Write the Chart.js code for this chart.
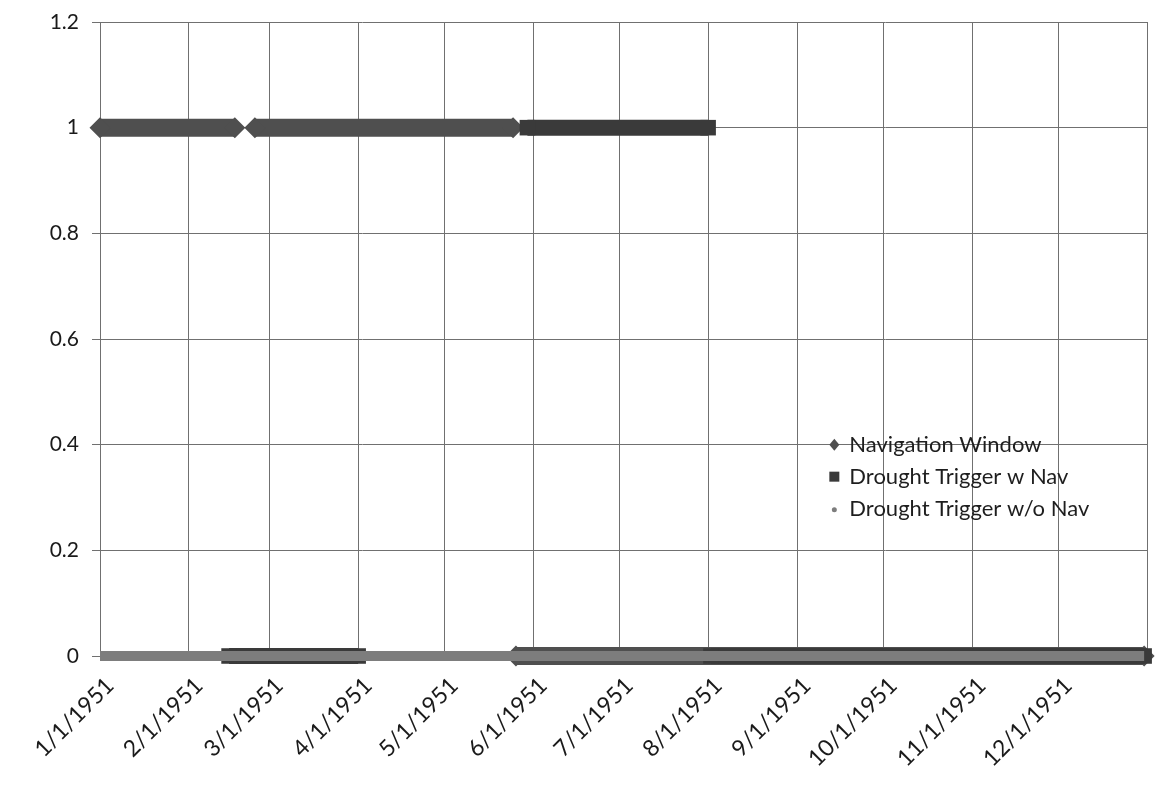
<!DOCTYPE html>
<html>
<head>
<meta charset="utf-8">
<script src="https://cdn.jsdelivr.net/npm/chart.js@4"></script>
<style>
  html, body { margin: 0; padding: 0; background: #fff; }
  #wrap { width: 1175px; height: 796px; }
</style>
</head>
<body>
<div id="wrap"><canvas id="chart"></canvas></div>
<script>
// x axis: days after 1/1/1951
var monthLabels = ["1/1/1951", "2/1/1951", "3/1/1951", "4/1/1951", "5/1/1951", "6/1/1951",
                   "7/1/1951", "8/1/1951", "9/1/1951", "10/1/1951", "11/1/1951", "12/1/1951"];
var monthStartDays = [0, 31, 59, 90, 120, 151, 181, 212, 243, 273, 304, 334];
var yearEndDay = 365;
var yTicks = [0, 0.2, 0.4, 0.6, 0.8, 1, 1.2];

// each series as runs of equal value: first day, last day, value
var navStart = [0, 54, 145];
var navEnd = [47, 144, 364];
var navValue = [1, 1, 0];

var trigNavStart = [45, 149, 213];
var trigNavEnd = [90, 212, 364];
var trigNavValue = [0, 1, 0];

var trigNoNavStart = [0];
var trigNoNavEnd = [364];
var trigNoNavValue = [0];

var seriesNames = ["Navigation Window", "Drought Trigger w Nav", "Drought Trigger w/o Nav"];

function runsToPoints(starts, ends, values) {
    var pts = [];
    for (var i = 0; i < starts.length; i++) {
        pts.push({x: starts[i], y: values[i]});
        pts.push({x: ends[i], y: values[i]});
        pts.push({x: ends[i], y: null});
    }
    return pts;
}

var font = "Lato, 'Open Sans', sans-serif";

//Legend sits inside the plot, no box
var innerLegend = {
    id: "innerLegend",
    afterDatasetsDraw: function(chart) {
        var ctx = chart.ctx;
        var x = chart.scales.x.getPixelForValue(256);
        var y = chart.scales.y.getPixelForValue(0.4);
        ctx.save();
        ctx.font = "22px " + font;
        ctx.textBaseline = "middle";
        chart.data.datasets.forEach(function(ds, i) {
            var yy = y + i * 32;
            ctx.fillStyle = ds.borderColor;
            if (i === 0) {
                ctx.beginPath();
                ctx.moveTo(x, yy - 6); ctx.lineTo(x + 5, yy); ctx.lineTo(x, yy + 6); ctx.lineTo(x - 5, yy);
                ctx.closePath(); ctx.fill();
            } else if (i === 1) {
                ctx.fillRect(x - 5, yy - 5, 10, 10);
            } else {
                ctx.beginPath(); ctx.arc(x, yy + 1, 2.5, 0, Math.PI * 2); ctx.fill();
            }
            ctx.fillStyle = "#1e1e1e";
            ctx.fillText(ds.label, x + 15, yy);
        });
        ctx.restore();
    }
};

var ctx = document.getElementById("chart").getContext("2d");
ctx.canvas.width = 1175;
ctx.canvas.height = 796;

var myChart = new Chart(ctx, {
    type: "line",
    data: {
        datasets: [
            {
                label: seriesNames[0],
                data: runsToPoints(navStart, navEnd, navValue),
                borderColor: "#4f4f4f",
                backgroundColor: "#4f4f4f",
                borderWidth: 18,
                borderCapStyle: "butt",
                pointStyle: "rectRot",
                pointRadius: 10.5,
                pointBorderWidth: 0,
                spanGaps: false,
                clip: false,
                order: 2
            },
            {
                label: seriesNames[1],
                data: runsToPoints(trigNavStart, trigNavEnd, trigNavValue),
                borderColor: "#3a3a3a",
                backgroundColor: "#3a3a3a",
                borderWidth: 16,
                borderCapStyle: "butt",
                pointStyle: "rect",
                pointRadius: 11,
                pointBorderWidth: 0,
                spanGaps: false,
                clip: false,
                order: 1
            },
            {
                label: seriesNames[2],
                data: runsToPoints(trigNoNavStart, trigNoNavEnd, trigNoNavValue),
                borderColor: "#7d7d7d",
                backgroundColor: "#7d7d7d",
                borderWidth: 10,
                borderCapStyle: "butt",
                pointRadius: 0,
                spanGaps: false,
                clip: false,
                order: 0
            }
        ]
    },
    options: {
        responsive: false,
        animation: false,
        layout: { padding: { top: 22, right: 28, left: 0, bottom: 0 } },
        plugins: {
            legend: { display: false },
            tooltip: { enabled: false }
        },
        scales: {
            x: {
                type: "linear",
                min: 0,
                max: yearEndDay,
                afterBuildTicks: function(scale) {
                    scale.ticks = monthStartDays.concat([yearEndDay]).map(function(d) { return {value: d}; });
                },
                afterFit: function(scale) {
                    scale.height = 140;
                    scale.paddingLeft = 0;
                    scale.paddingRight = 0;
                },
                ticks: {
                    autoSkip: false,
                    minRotation: 45,
                    maxRotation: 45,
                    padding: 12,
                    labelOffset: 10,
                    color: "#1a1a1a",
                    font: { family: font, size: 23 },
                    callback: function(value) {
                        var i = monthStartDays.indexOf(value);
                        return i > -1 ? monthLabels[i] : "";
                    }
                },
                grid: { color: "#707070", lineWidth: 1, tickLength: 4 },
                border: { color: "#707070" }
            },
            y: {
                min: 0,
                max: 1.2,
                afterBuildTicks: function(scale) {
                    scale.ticks = yTicks.map(function(v) { return {value: v}; });
                },
                afterFit: function(scale) {
                    scale.width = 100;
                    scale.paddingTop = 0;
                    scale.paddingBottom = 0;
                },
                ticks: {
                    padding: 13,
                    color: "#1a1a1a",
                    font: { family: font, size: 21 },
                    callback: function(value) { return String(Math.round(value * 10) / 10); }
                },
                grid: { color: "#707070", lineWidth: 1, tickLength: 8 },
                border: { color: "#707070" }
            }
        }
    },
    plugins: [innerLegend]
});
</script>
</body>
</html>
